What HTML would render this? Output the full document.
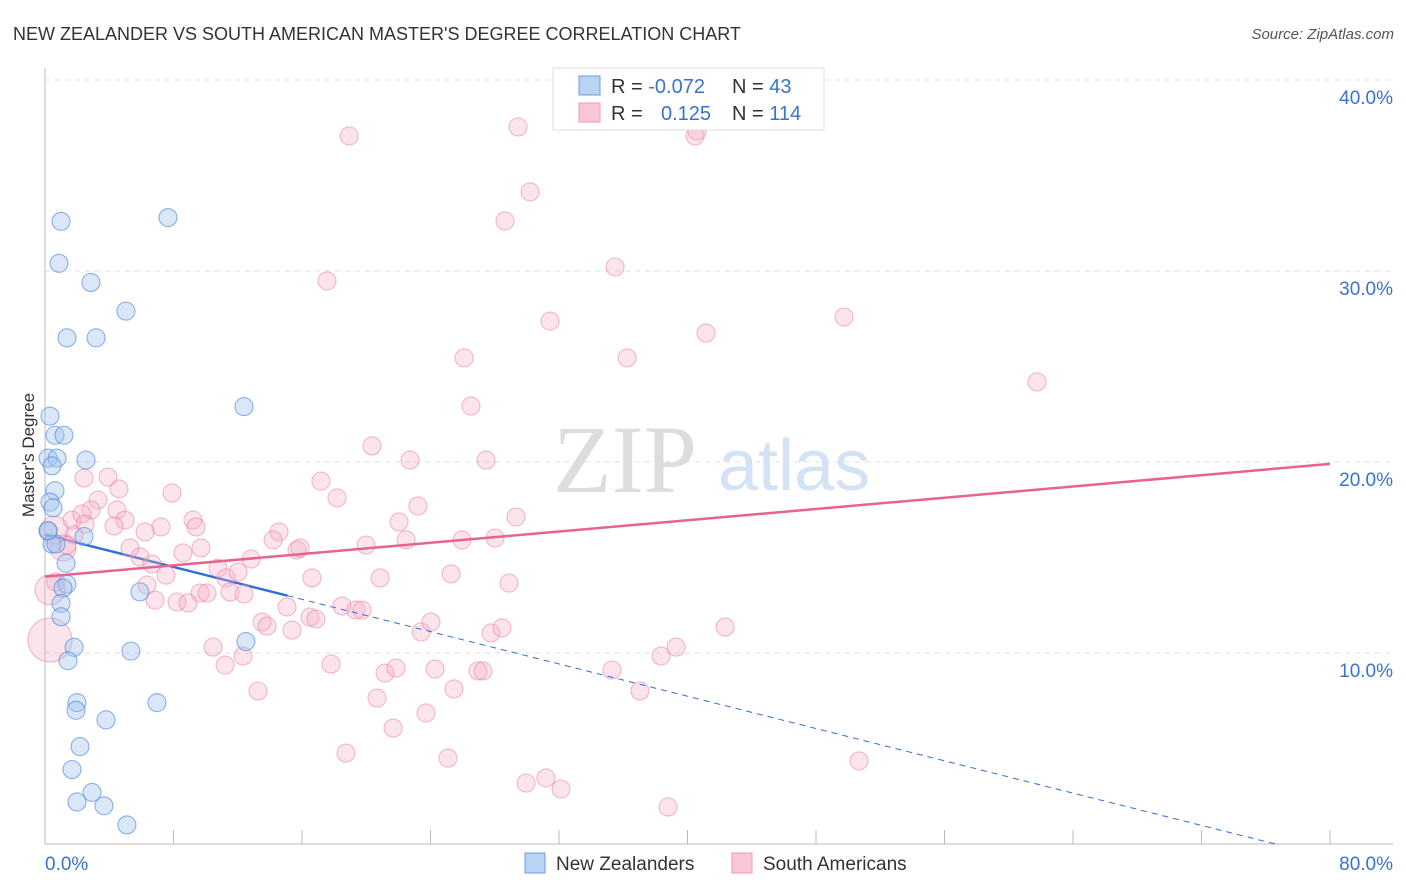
<!DOCTYPE html>
<html><head><meta charset="utf-8"><style>
body{margin:0;background:#fff;font-family:"Liberation Sans",sans-serif}
#c{position:absolute;left:0;top:0}
</style></head><body>
<svg id="c" width="1406" height="892" xmlns="http://www.w3.org/2000/svg">
<text x="13" y="40" font-size="18" fill="#333">NEW ZEALANDER VS SOUTH AMERICAN MASTER'S DEGREE CORRELATION CHART</text>
<text x="1394" y="39" font-size="15" fill="#555" font-style="italic" text-anchor="end">Source: ZipAtlas.com</text>
<g>
<text x="553" y="492" font-family="Liberation Serif,serif" font-size="96" fill="#ddd">ZIP</text>
<text x="718" y="490" font-size="72" fill="#d3e2f4">atlas</text>
</g>
<g id="grid"></g>
<g id="axes"></g>
<line x1="45" y1="535" x2="288" y2="592" stroke="#2f6fd6" stroke-width="2.5" id="blueTrend"/>
<g id="pts"></g>
<line id="pinkTrend" stroke="#e8638f" stroke-width="2.5"/>
<line id="blueDash" stroke="#2f6fd6" stroke-width="1" stroke-dasharray="6,5"/>
<text x="34" y="455" font-size="17" fill="#333" transform="rotate(-90 34 455)" text-anchor="middle">Master's Degree</text>
<g>
<rect x="553" y="68" width="271" height="62" fill="#fff" stroke="#ddd"/>
<rect x="579" y="76" width="21" height="19" fill="#b9d3f5" stroke="#6c9de0"/>
<rect x="579" y="103" width="21" height="19" fill="#f9c6d6" stroke="#ee99b5"/>
<text x="611" y="93" font-size="20" fill="#333">R = <tspan fill="#3a72cc">-0.072</tspan></text>
<text x="732" y="93" font-size="20" fill="#333">N = <tspan fill="#3a72cc"> 43</tspan></text>
<text x="611" y="120" font-size="20" fill="#333">R = <tspan fill="#3a72cc" x="661">0.125</tspan></text>
<text x="732" y="120" font-size="20" fill="#333">N = <tspan fill="#3a72cc">114</tspan></text>
</g>
<g>
<rect x="525" y="853" width="20" height="20" fill="#b9d3f5" stroke="#6c9de0"/>
<text x="556" y="870" font-size="19" fill="#333">New Zealanders</text>
<rect x="732" y="853" width="20" height="20" fill="#f9c6d6" stroke="#ee99b5"/>
<text x="763" y="870" font-size="19" fill="#333">South Americans</text>
</g>
</svg>
<script>
const yTicks=[10,20,30,40];
const yTickLabels=["10.0%","20.0%","30.0%","40.0%"];
const xTickLabels=["0.0%","80.0%"];
const nzX=[1.0,0.87,2.86,7.66,5.04,1.37,3.18,0.31,0.62,1.18,0.19,0.75,2.55,0.44,12.39,0.62,0.31,0.5,0.19,0.44,2.43,0.68,1.31,1.37,1.12,5.91,1.0,1.0,1.81,1.43,5.35,12.51,1.99,1.93,6.97,3.80,2.18,1.68,2.93,1.99,3.67,5.1,0.19];
const nzY=[32.6,30.4,29.4,32.8,27.9,26.5,26.5,22.4,21.4,21.4,20.2,20.2,20.1,19.8,22.9,18.5,17.9,17.6,16.4,15.7,16.1,15.7,14.7,13.6,13.4,13.2,12.6,11.9,10.3,9.6,10.1,10.6,7.4,7.0,7.4,6.5,5.1,3.9,2.7,2.2,2.0,1.0,16.4];
const saX=[18.93,29.45,40.47,40.59,30.2,28.64,35.49,17.56,31.44,49.75,41.15,36.24,26.09,61.76,26.52,20.36,22.73,27.46,17.18,18.18,23.22,29.32,22.04,22.48,25.96,28.02,19.99,14.57,14.2,15.69,15.88,12.83,10.77,11.27,12.02,11.52,12.39,16.62,20.86,25.28,28.89,13.51,13.82,15.07,15.38,16.5,16.87,18.49,19.36,19.74,23.41,24.03,27.77,28.45,9.65,10.46,11.21,12.33,13.26,17.81,18.74,20.67,21.17,21.85,21.67,23.72,24.28,25.46,25.09,26.96,27.27,35.3,37.04,38.35,39.29,42.34,38.79,50.68,29.95,31.19,32.13,2.43,3.92,4.61,3.3,2.86,4.48,1.68,2.3,1.81,2.49,4.98,4.3,1.12,1.37,0.56,7.22,6.23,5.29,5.91,7.91,6.66,7.53,8.59,9.71,6.35,6.85,8.22,8.9,10.09,0.31,0.31,0.68,9.21,9.4];
const saY=[37.07,37.54,37.07,37.33,34.14,32.62,30.21,29.48,27.38,27.59,26.75,25.45,25.45,24.19,22.93,20.84,20.1,20.1,19.0,18.12,17.7,17.12,16.86,15.92,15.92,16.02,15.65,16.34,15.92,15.39,15.5,14.92,14.45,13.93,14.24,13.19,13.09,13.93,13.93,14.14,13.66,11.62,11.41,12.41,11.2,11.88,11.78,12.46,12.25,12.25,11.1,11.62,11.05,11.31,13.14,10.31,9.37,9.84,8.01,9.42,4.76,7.64,8.95,9.21,6.07,6.86,9.16,8.12,4.5,9.06,9.06,9.11,8.01,9.84,10.31,11.36,1.94,4.35,3.19,3.46,2.88,19.16,19.21,18.59,18.01,17.49,17.49,16.96,17.28,16.18,16.75,16.96,16.65,15.5,15.65,16.44,16.6,16.34,15.5,15.03,18.38,14.66,14.08,15.24,15.5,13.56,12.77,12.67,12.62,13.14,10.68,13.3,13.72,16.96,16.6];
const saBig={110:22,111:15,95:14,93:13};
const trendSA=[14.0,19.9];
const trendNZ=[16.2,13.0,0];
const X=v=>45+v*(1330-45)/80, Y=v=>844-v*19.1;
const NS="http://www.w3.org/2000/svg";
function mk(tag,at,parent){const e=document.createElementNS(NS,tag);for(const k in at)e.setAttribute(k,at[k]);parent.appendChild(e);return e;}
const grid=document.getElementById('grid'),axes=document.getElementById('axes'),pts=document.getElementById('pts');
yTicks.forEach((t,i)=>{
 const l=mk('line',{x1:45,x2:1393,y1:Y(t),y2:Y(t),stroke:'#ddd','stroke-dasharray':'5,5'},grid);
 
 
 const tx=mk('text',{x:1393,y:Y(t)+24,'font-size':19,fill:'#3a72cc','text-anchor':'end'},axes);
 tx.textContent=yTickLabels[i];
 
 
});
mk('line',{x1:45,x2:45,y1:68,y2:844,stroke:'#bbb'},axes);
mk('line',{x1:45,x2:1393,y1:844,y2:844,stroke:'#bbb'},axes);
for(let i=0;i<=10;i++){mk('line',{x1:X(i*8),x2:X(i*8),y1:844,y2:830,stroke:'#bbb'},axes);}
const xl0=mk('text',{x:45,y:870,'font-size':19,fill:'#3a72cc'},axes);xl0.textContent=xTickLabels[0];


const xl1=mk('text',{x:1393,y:870,'font-size':19,fill:'#3a72cc','text-anchor':'end'},axes);xl1.textContent=xTickLabels[1];


saX.forEach((v,i)=>{
 const c=mk('circle',{cx:X(v),cy:Y(saY[i]),r:saBig[i]||9,fill:'rgba(246,170,195,0.32)',stroke:'rgba(232,130,165,0.55)','stroke-width':1.1},pts);
 
 
});
nzX.forEach((v,i)=>{
 const c=mk('circle',{cx:X(v),cy:Y(nzY[i]),r:9,fill:'rgba(160,195,240,0.4)',stroke:'rgba(70,130,215,0.6)','stroke-width':1.1},pts);
 
 
});
const pt=document.getElementById('pinkTrend');
pt.setAttribute('x1',X(0));pt.setAttribute('y1',Y(trendSA[0]));pt.setAttribute('x2',X(80));pt.setAttribute('y2',Y(trendSA[1]));
const bt=document.getElementById('blueTrend');
bt.setAttribute('x1',X(0));bt.setAttribute('y1',Y(trendNZ[0]));bt.setAttribute('x2',X(15.1));bt.setAttribute('y2',Y(trendNZ[1]));
const bd=document.getElementById('blueDash');
bd.setAttribute('x1',X(15.1));bd.setAttribute('y1',Y(trendNZ[1]));bd.setAttribute('x2',X(76.6));bd.setAttribute('y2',Y(trendNZ[2]));
</script>
</body></html>
